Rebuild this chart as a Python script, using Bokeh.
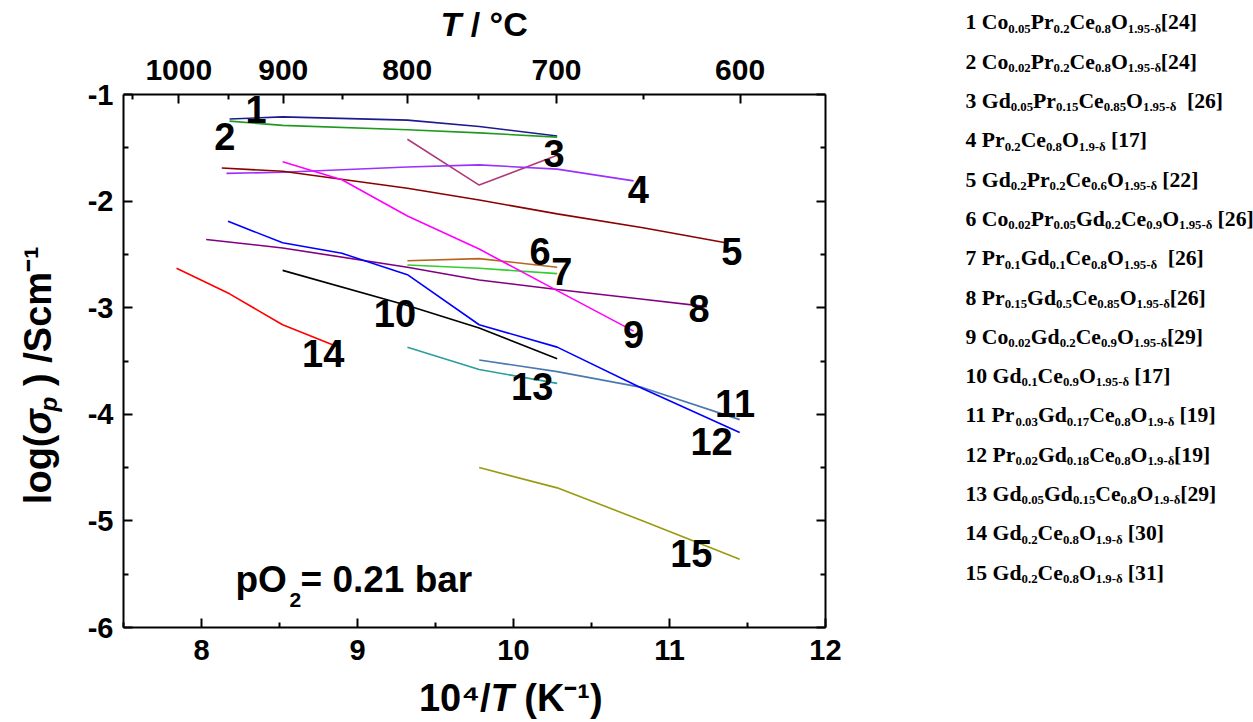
import math
import re
from bokeh.plotting import figure
from bokeh.models import Range1d, LinearAxis, FixedTicker, CustomJSTickFormatter, Label
from bokeh.layouts import row, column
from bokeh.embed import file_html
from bokeh.resources import INLINE
from bokeh.core.properties import value

# ---------------- data ----------------
x_ticks = [8, 9, 10, 11, 12]
x_minor = [7.5, 8.5, 9.5, 10.5, 11.5]
y_ticks = [-1, -2, -3, -4, -5, -6]
y_minor = [-1.5, -2.5, -3.5, -4.5, -5.5]
temp_major_c = [1000, 900, 800, 700, 600]
temp_minor_c = [1050, 950, 850, 750, 650]

s1_x = [8.18, 8.52, 9.32, 9.78, 10.28]
s1_y = [-1.23, -1.21, -1.24, -1.30, -1.39]
s2_x = [8.18, 8.52, 9.32, 9.78, 10.28]
s2_y = [-1.25, -1.29, -1.33, -1.36, -1.40]
s3_x = [9.32, 9.78, 10.28]
s3_y = [-1.42, -1.85, -1.57]
s4_x = [8.16, 8.52, 9.32, 9.78, 10.28, 10.77]
s4_y = [-1.74, -1.73, -1.68, -1.66, -1.70, -1.81]
s5_x = [8.13, 8.52, 9.32, 9.78, 10.28, 10.83, 11.36]
s5_y = [-1.69, -1.72, -1.88, -1.99, -2.12, -2.25, -2.39]
s6_x = [9.32, 9.78, 10.28]
s6_y = [-2.56, -2.54, -2.62]
s7_x = [9.32, 9.78, 10.28]
s7_y = [-2.60, -2.63, -2.68]
s8_x = [8.03, 8.52, 9.32, 9.78, 10.28, 10.83, 11.24]
s8_y = [-2.36, -2.44, -2.62, -2.74, -2.83, -2.92, -2.99]
s9_x = [8.52, 8.90, 9.32, 9.78, 10.28, 10.77]
s9_y = [-1.63, -1.80, -2.14, -2.45, -2.84, -3.22]
s10_x = [8.52, 9.32, 9.78, 10.28]
s10_y = [-2.65, -2.98, -3.19, -3.48]
s11_x = [9.78, 10.28, 10.83, 11.45]
s11_y = [-3.49, -3.60, -3.75, -4.05]
s12_x = [8.17, 8.52, 8.90, 9.32, 9.78, 10.28, 10.83, 11.45]
s12_y = [-2.19, -2.39, -2.49, -2.69, -3.16, -3.37, -3.76, -4.17]
s13_x = [9.32, 9.78, 10.28]
s13_y = [-3.37, -3.58, -3.71]
s14_x = [7.84, 8.18, 8.52, 8.88]
s14_y = [-2.63, -2.87, -3.16, -3.37]
s15_x = [9.78, 10.28, 10.83, 11.45]
s15_y = [-4.50, -4.69, -5.00, -5.36]

series_x = [s1_x, s2_x, s3_x, s4_x, s5_x, s6_x, s7_x, s8_x, s9_x, s10_x,
            s11_x, s12_x, s13_x, s14_x, s15_x]
series_y = [s1_y, s2_y, s3_y, s4_y, s5_y, s6_y, s7_y, s8_y, s9_y, s10_y,
            s11_y, s12_y, s13_y, s14_y, s15_y]
series_colors = ["#1c1c8f", "#1f9a1f", "#b03a78", "#9b30ff", "#8b0000",
                 "#b5651d", "#33cc33", "#800080", "#ff00ff", "#000000",
                 "#4a78b0", "#0000ff", "#2a9d9d", "#ff0000", "#9a9a10"]

curve_ids = [str(i) for i in range(1, 16)]
id_x = [8.35, 8.15, 10.26, 10.80, 11.40, 10.17, 10.31, 11.19, 10.77, 9.24,
        11.42, 11.27, 10.12, 8.78, 11.14]
id_y = [-1.27, -1.53, -1.69, -2.02, -2.60, -2.60, -2.79, -3.14, -3.38, -3.19,
        -4.03, -4.39, -3.87, -3.56, -5.44]

legend_labels = [
    "1 Co_{0.05}Pr_{0.2}Ce_{0.8}O_{1.95-δ}[24]",
    "2 Co_{0.02}Pr_{0.2}Ce_{0.8}O_{1.95-δ}[24]",
    "3 Gd_{0.05}Pr_{0.15}Ce_{0.85}O_{1.95-δ}  [26]",
    "4 Pr_{0.2}Ce_{0.8}O_{1.9-δ} [17]",
    "5 Gd_{0.2}Pr_{0.2}Ce_{0.6}O_{1.95-δ} [22]",
    "6 Co_{0.02}Pr_{0.05}Gd_{0.2}Ce_{0.9}O_{1.95-δ} [26]",
    "7 Pr_{0.1}Gd_{0.1}Ce_{0.8}O_{1.95-δ}  [26]",
    "8 Pr_{0.15}Gd_{0.5}Ce_{0.85}O_{1.95-δ}[26]",
    "9 Co_{0.02}Gd_{0.2}Ce_{0.9}O_{1.95-δ}[29]",
    "10 Gd_{0.1}Ce_{0.9}O_{1.95-δ} [17]",
    "11 Pr_{0.03}Gd_{0.17}Ce_{0.8}O_{1.9-δ} [19]",
    "12 Pr_{0.02}Gd_{0.18}Ce_{0.8}O_{1.9-δ}[19]",
    "13 Gd_{0.05}Gd_{0.15}Ce_{0.8}O_{1.9-δ}[29]",
    "14 Gd_{0.2}Ce_{0.8}O_{1.9-δ} [30]",
    "15 Gd_{0.2}Ce_{0.8}O_{1.9-δ} [31]",
]

NBSP = "\u00a0"
FONT = "Liberation Sans"
SHIFT = 0.37          # measured drop of the rendered alphabetic baseline, in em

# ---------------- page geometry (pixels) ----------------
PAGE_H = 722
LEFT_W = 950          # plot block width
LEG_W = 303           # legend block width
TOP_H = 44            # strip holding the top title
BOT_H = 44            # strip holding the x title
YT_W = 64             # strip holding the y title
MID_H = PAGE_H - TOP_H - BOT_H
PX_PER_X = 156.0
PX_PER_Y = 106.6


def no_align(f):
    try:
        f.frame_align = False
    except Exception:
        pass


def strip(w, h, flip_y=True):
    f = figure(width=w, height=h, x_range=Range1d(0, w),
               y_range=Range1d(h, 0) if flip_y else Range1d(0, h),
               toolbar_location=None, output_backend="svg", min_border=0,
               x_axis_type=None, y_axis_type=None)
    f.outline_line_color = None
    f.grid.visible = False
    f.background_fill_color = "white"
    f.border_fill_color = "white"
    no_align(f)
    return f


def put(f, x, y, text, fs, style="bold", align="left", angle=0.0, font=FONT):
    """x, y: pixel position of the alphabetic baseline (y grows downward unless rotated)."""
    if angle:
        x = x - SHIFT * fs
    else:
        y = y - SHIFT * fs
    f.text(x=[x], y=[y], text=[text.replace(" ", NBSP)], text_font=value(font),
           text_font_style=style, text_font_size=f"{fs}px", text_align=align,
           text_baseline="alphabetic", angle=angle, text_color="black")


# ---------------- main plot ----------------
p = figure(width=LEFT_W - YT_W, height=MID_H, x_range=Range1d(7.5, 12), y_range=Range1d(-6, -1),
           toolbar_location=None, output_backend="svg",
           min_border_left=123 - YT_W, min_border_right=125,
           min_border_top=94 - TOP_H, min_border_bottom=(PAGE_H - BOT_H) - 627)
p.outline_line_color = None
p.grid.visible = False
p.background_fill_color = "white"
p.border_fill_color = "white"
no_align(p)


def style_axis(ax, fs, standoff):
    ax.axis_line_width = 2
    ax.axis_line_color = "black"
    ax.major_tick_line_width = 2
    ax.minor_tick_line_width = 2
    ax.major_tick_line_color = "black"
    ax.minor_tick_line_color = "black"
    ax.major_tick_in = 9
    ax.major_tick_out = 0
    ax.minor_tick_in = 5
    ax.minor_tick_out = 0
    ax.major_label_text_font = FONT
    ax.major_label_text_font_style = "bold"
    ax.major_label_text_font_size = fs
    ax.major_label_text_color = "black"
    ax.major_label_standoff = standoff


xa = p.xaxis[0]
xa.ticker = FixedTicker(ticks=x_ticks, minor_ticks=x_minor)
xa.formatter = CustomJSTickFormatter(code="return tick.toFixed(0);")
style_axis(xa, "29px", 12)

ya = p.yaxis[0]
ya.ticker = FixedTicker(ticks=y_ticks, minor_ticks=y_minor)
ya.formatter = CustomJSTickFormatter(code="return tick.toFixed(0);")
style_axis(ya, "29px", 10)

top = LinearAxis(ticker=FixedTicker(ticks=[1e4 / (t + 273.15) for t in temp_major_c],
                                    minor_ticks=[1e4 / (t + 273.15) for t in temp_minor_c]),
                 formatter=CustomJSTickFormatter(code="return Math.round(10000 / tick - 273.15).toString();"))
style_axis(top, "30px", 15)
p.add_layout(top, "above")

right = LinearAxis(ticker=FixedTicker(ticks=y_ticks, minor_ticks=y_minor),
                   formatter=CustomJSTickFormatter(code="return '';"))
style_axis(right, "1px", 0)
p.add_layout(right, "right")

for xs, ys, c in zip(series_x, series_y, series_colors):
    p.line(xs, ys, line_color=c, line_width=1.6)

ID_FS = 38
p.text(x=id_x, y=[v + SHIFT * ID_FS / PX_PER_Y for v in id_y], text=curve_ids,
       text_font=value(FONT), text_font_style="bold", text_font_size=f"{ID_FS}px",
       text_align="center", text_baseline="alphabetic", text_color="black")


def px_x(px):
    return 7.5 + (px - 123) / PX_PER_X


def px_y(py):
    return -1 - (py - 94) / PX_PER_Y


# annotation pO2 = 0.21 bar (inside the frame)
for xp, yp, t, fs in [(235, 593, "pO", 37), (289, 607, "2", 21), (300, 593, "= 0.21 bar", 37)]:
    p.add_layout(Label(x=px_x(xp), y=px_y(yp - SHIFT * fs), text=t.replace(" ", NBSP),
                       text_font=FONT, text_font_style="bold", text_font_size=f"{fs}px",
                       text_baseline="alphabetic", text_color="black"))

# ---------------- title strips ----------------
top_strip = strip(LEFT_W, TOP_H)
put(top_strip, 440, 36.5, "T", 34, style="bold italic")
put(top_strip, 440 + 0.611 * 34, 36.5, " / °C", 34)

bot_strip = strip(LEFT_W, BOT_H)
xb = 490
yb = 712 - (PAGE_H - BOT_H)
put(bot_strip, xb, yb, "10⁴/", 38, align="right")
put(bot_strip, xb, yb, "T", 38, style="bold italic")
put(bot_strip, xb + 0.611 * 38, yb, " (K⁻¹)", 38)

yl_strip = strip(YT_W, MID_H, flip_y=False)


def ly(py):
    return (PAGE_H - BOT_H) - py


ang = math.pi / 2
put(yl_strip, 52, ly(434), "log(", 38, align="right", angle=ang)
put(yl_strip, 52, ly(434), "σ", 38, style="bold italic", angle=ang)
put(yl_strip, 57, ly(434 - 23), "p", 24, style="bold italic", angle=ang)
put(yl_strip, 52, ly(434 - 23 - 15), " ) /Scm⁻¹", 38, angle=ang)

# ---------------- legend panel ----------------
leg = strip(LEG_W, PAGE_H)

W = {' ': 0.25, NBSP: 0.25, '.': 0.25, '-': 0.333, '[': 0.333, ']': 0.333, 'C': 0.722,
     'G': 0.778, 'O': 0.778, 'P': 0.611, 'o': 0.5, 'r': 0.444, 'e': 0.444, 'd': 0.556, 'δ': 0.5}


def tw(s, fs):
    return sum(W.get(ch, 0.5) for ch in s) * fs


MAIN_FS, SUB_FS = 21.7, 12.8
mx, my, mt, sx, sy, st = [], [], [], [], [], []
for i, s in enumerate(legend_labels):
    y0 = 30 + 39.3 * i
    x = 15.0
    parts = re.split(r"_\{([^}]*)\}", s)
    for j, part in enumerate(parts):
        if not part:
            continue
        part = part.replace(" ", NBSP)
        if j % 2 == 0:
            mx.append(x); my.append(y0 - SHIFT * MAIN_FS); mt.append(part)
            x += tw(part, MAIN_FS)
        else:
            sx.append(x); sy.append(y0 + 3 - SHIFT * SUB_FS); st.append(part)
            x += tw(part, SUB_FS)

leg.text(x=mx, y=my, text=mt, text_font=value("Liberation Serif"), text_font_style="bold",
         text_font_size=f"{MAIN_FS}px", text_baseline="alphabetic", text_color="black")
leg.text(x=sx, y=sy, text=st, text_font=value("Liberation Serif"), text_font_style="bold",
         text_font_size=f"{SUB_FS}px", text_baseline="alphabetic", text_color="black")

layout = row(column(top_strip, row(yl_strip, p), bot_strip), leg)
open("out.html", "w").write(file_html(layout, INLINE))
